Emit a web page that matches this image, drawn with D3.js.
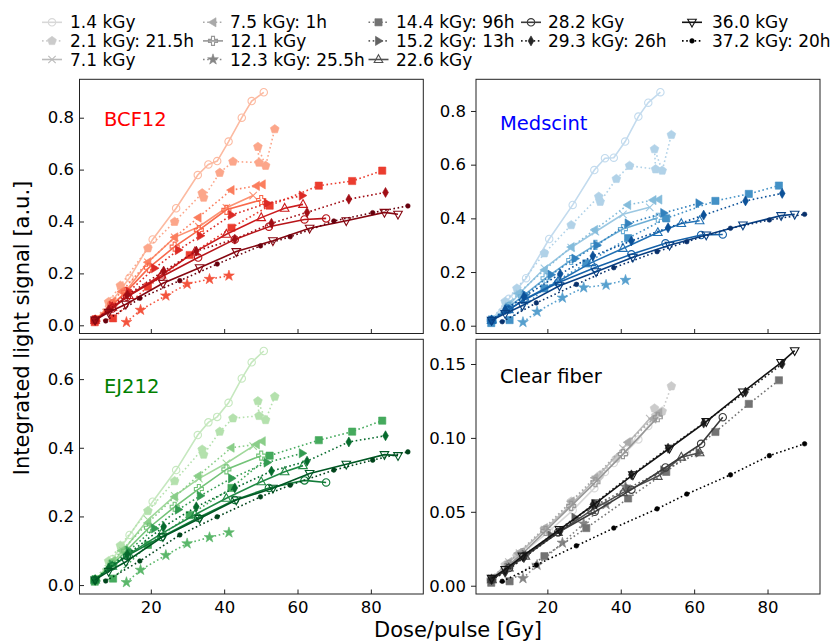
<!DOCTYPE html>
<html lang="en">
<head>
<meta charset="UTF-8">
<title>Integrated light signal vs dose/pulse</title>
<script src="https://d3js.org/d3.v7.min.js"></script>
<style>
  body { margin: 0; background: #fff; }
  svg { font-family: "DejaVu Sans", sans-serif; }
</style>
</head>
<body>
<div id="chart"></div>
<script>
const seriesNames = ["1.4 kGy", "2.1 kGy: 21.5h", "7.1 kGy", "7.5 kGy: 1h", "12.1 kGy",
  "12.3 kGy: 25.5h", "14.4 kGy: 96h", "15.2 kGy: 13h", "22.6 kGy", "28.2 kGy",
  "29.3 kGy: 26h", "36.0 kGy", "37.2 kGy: 20h"];
const panelNames = ["BCF12", "Medscint", "EJ212", "Clear fiber"];

// dose/pulse [Gy] per series (same for every detector)
const dosePulse = [
  [4.8, 9.5, 14.2, 20.5, 26.9, 32.8, 35.7, 38.1, 41.2, 44.8, 47.5, 50.8],
  [4.8, 8.5, 11.7, 19.2, 26.5, 34.0, 34.4, 38.8, 42.4, 49.5, 49.2, 51.3, 53.8],
  [4.8, 9.5, 12.4, 19.2, 26.5, 33.1, 40.6, 47.9],
  [4.8, 9.5, 12.0, 19.2, 26.5, 32.9, 41.9, 48.8, 50.4],
  [4.8, 9.5, 13.3, 19.5, 26.5, 33.1, 40.6, 50.1],
  [13.35, 17.2, 24.1, 29.9, 36.0, 41.3],
  [4.7, 9.7, 19.2, 30.6, 42.0, 52.4, 65.8, 74.9, 83.1],
  [4.8, 9.5, 14.0, 21.0, 27.5, 33.5, 42.0, 51.7, 61.3],
  [4.8, 9.5, 14.0, 22.9, 32.0, 40.6, 50.1, 56.5, 61.5],
  [4.8, 9.5, 13.5, 22.9, 32.9, 42.9, 52.2, 61.9, 67.8],
  [4.8, 8.5, 13.6, 23.5, 32.4, 42.9, 52.9, 62.6, 74.0, 84.0],
  [4.8, 8.5, 13.2, 23.3, 33.3, 43.3, 53.3, 63.3, 73.3, 83.7, 87.4],
  [7.7, 17.0, 27.9, 38.1, 49.9, 58.0, 69.9, 80.5, 90.1]
];

const signalBCF12 = [
  [0.017, 0.095, 0.183, 0.331, 0.451, 0.579, 0.620, 0.633, 0.708, 0.800, 0.864, 0.898],
  [0.020, 0.090, 0.153, 0.297, 0.399, 0.509, 0.492, 0.588, 0.631, 0.627, 0.688, 0.615, 0.756],
  [0.020, 0.080, 0.117, 0.243, 0.339, 0.380, 0.453, 0.500],
  [0.020, 0.090, 0.130, 0.243, 0.339, 0.415, 0.521, 0.537, 0.543],
  [0.020, 0.080, 0.129, 0.222, 0.303, 0.367, 0.445, 0.483],
  [0.012, 0.059, 0.114, 0.159, 0.178, 0.191],
  [0.012, 0.027, 0.149, 0.271, 0.376, 0.461, 0.538, 0.556, 0.596],
  [0.020, 0.075, 0.130, 0.220, 0.290, 0.345, 0.425, 0.470, 0.500],
  [0.020, 0.070, 0.115, 0.194, 0.283, 0.351, 0.415, 0.451, 0.466],
  [0.020, 0.065, 0.110, 0.187, 0.261, 0.331, 0.380, 0.408, 0.412],
  [0.020, 0.060, 0.117, 0.209, 0.286, 0.332, 0.393, 0.435, 0.486, 0.512],
  [0.020, 0.050, 0.081, 0.162, 0.222, 0.284, 0.326, 0.374, 0.403, 0.435, 0.428],
  [0.017, 0.104, 0.172, 0.236, 0.306, 0.341, 0.402, 0.434, 0.460]
];

const signalMedscint = [
  [0.021, 0.100, 0.177, 0.323, 0.450, 0.580, 0.624, 0.626, 0.686, 0.779, 0.831, 0.870],
  [0.020, 0.090, 0.139, 0.270, 0.375, 0.481, 0.462, 0.547, 0.596, 0.583, 0.658, 0.578, 0.711],
  [0.020, 0.075, 0.120, 0.214, 0.291, 0.350, 0.415, 0.441],
  [0.020, 0.080, 0.120, 0.208, 0.293, 0.357, 0.450, 0.468, 0.470],
  [0.020, 0.070, 0.110, 0.177, 0.245, 0.301, 0.360, 0.402],
  [0.013, 0.052, 0.104, 0.142, 0.152, 0.170],
  [0.010, 0.021, 0.139, 0.232, 0.326, 0.400, 0.465, 0.491, 0.522],
  [0.020, 0.065, 0.115, 0.190, 0.250, 0.300, 0.381, 0.420, 0.456],
  [0.020, 0.060, 0.100, 0.165, 0.235, 0.288, 0.347, 0.381, 0.391],
  [0.020, 0.060, 0.095, 0.160, 0.216, 0.266, 0.307, 0.338, 0.340],
  [0.020, 0.060, 0.108, 0.193, 0.260, 0.316, 0.365, 0.412, 0.465, 0.493],
  [0.020, 0.045, 0.075, 0.149, 0.201, 0.255, 0.300, 0.338, 0.375, 0.410, 0.415],
  [0.015, 0.085, 0.154, 0.216, 0.276, 0.313, 0.363, 0.394, 0.415]
];

const signalEJ212 = [
  [0.012, 0.075, 0.146, 0.243, 0.335, 0.437, 0.474, 0.490, 0.531, 0.602, 0.649, 0.682],
  [0.015, 0.070, 0.115, 0.216, 0.303, 0.395, 0.380, 0.447, 0.486, 0.493, 0.536, 0.481, 0.549],
  [0.015, 0.065, 0.100, 0.190, 0.260, 0.310, 0.355, 0.405],
  [0.015, 0.070, 0.100, 0.181, 0.257, 0.318, 0.400, 0.410, 0.419],
  [0.015, 0.060, 0.100, 0.167, 0.228, 0.280, 0.337, 0.377],
  [0.008, 0.044, 0.087, 0.121, 0.139, 0.153],
  [0.010, 0.019, 0.117, 0.204, 0.283, 0.377, 0.422, 0.447, 0.479],
  [0.015, 0.060, 0.100, 0.165, 0.220, 0.260, 0.311, 0.357, 0.384],
  [0.015, 0.055, 0.090, 0.150, 0.205, 0.253, 0.301, 0.330, 0.348],
  [0.015, 0.055, 0.085, 0.140, 0.196, 0.248, 0.283, 0.305, 0.299],
  [0.015, 0.050, 0.089, 0.170, 0.228, 0.283, 0.332, 0.361, 0.417, 0.435],
  [0.015, 0.040, 0.068, 0.141, 0.194, 0.248, 0.282, 0.325, 0.352, 0.380, 0.377],
  [0.012, 0.070, 0.146, 0.199, 0.257, 0.291, 0.335, 0.364, 0.388]
];

const signalClear = [
  [0.004, 0.014, 0.024, 0.037, 0.051, 0.066, 0.077, 0.083, 0.090, 0.099, 0.108, 0.117],
  [0.005, 0.014, 0.020, 0.038, 0.057, 0.074, 0.075, 0.086, 0.097, 0.115, 0.120, 0.118, 0.135],
  [0.005, 0.016, 0.022, 0.038, 0.055, 0.072, 0.093, 0.113],
  [0.005, 0.016, 0.022, 0.039, 0.057, 0.073, 0.097, 0.113, 0.117],
  [0.004, 0.014, 0.022, 0.037, 0.054, 0.070, 0.089, 0.114],
  [0.005, 0.014, 0.029, 0.042, 0.055, 0.067],
  [0.002, 0.003, 0.020, 0.039, 0.059, 0.077, 0.104, 0.123, 0.139],
  [0.004, 0.012, 0.021, 0.034, 0.046, 0.055, 0.066, 0.078, 0.090],
  [0.004, 0.012, 0.020, 0.036, 0.051, 0.063, 0.074, 0.087, 0.090],
  [0.004, 0.012, 0.020, 0.036, 0.050, 0.065, 0.080, 0.096, 0.114],
  [0.004, 0.009, 0.019, 0.037, 0.055, 0.075, 0.093, 0.110, 0.131, 0.150],
  [0.005, 0.011, 0.020, 0.038, 0.056, 0.075, 0.093, 0.111, 0.131, 0.151, 0.159],
  [0.003, 0.014, 0.027, 0.039, 0.052, 0.062, 0.075, 0.088, 0.096]
];

const xTicks = [20, 40, 60, 80];
const yTicksBCF12 = [0, 0.2, 0.4, 0.6, 0.8];
const yTicksMedscint = [0, 0.2, 0.4, 0.6, 0.8];
const yTicksEJ212 = [0, 0.2, 0.4, 0.6];
const yTicksClear = [0, 0.05, 0.10, 0.15];

// styles
const markers = ["o", "p", "x", "<", "P", "*", "s", ">", "^", "o", "d", "v", "."];
const dotted = [false, true, false, true, false, true, true, true, false, false, true, false, true];
const openMarker = m => ["o", "x", "P", "^", "v"].includes(m);

const W = 834, H = 644;
const panels = [
  { name: panelNames[0], data: signalBCF12, ticks: yTicksBCF12, fmt: ".1f", ydom: [-0.0316, 0.948],
    x: 79.5, y: 79.3, w: 343.8, h: 254.2, interp: d3.interpolateReds, color: "#ff0000",
    tx: 104, ty: 125.7, tickOut: false, xlabels: false },
  { name: panelNames[1], data: signalMedscint, ticks: yTicksMedscint, fmt: ".1f", ydom: [-0.029, 0.918],
    x: 476, y: 79.3, w: 344, h: 254.2, interp: d3.interpolateBlues, color: "#0000ff",
    tx: 500, ty: 130, tickOut: true, xlabels: false },
  { name: panelNames[2], data: signalEJ212, ticks: yTicksEJ212, fmt: ".1f", ydom: [-0.026, 0.716],
    x: 79.5, y: 339.3, w: 343.8, h: 254.7, interp: d3.interpolateGreens, color: "#008000",
    tx: 104, ty: 393.3, tickOut: false, xlabels: true },
  { name: panelNames[3], data: signalClear, ticks: yTicksClear, fmt: ".2f", ydom: [-0.0056, 0.1667],
    x: 476, y: 339.3, w: 344, h: 254.7, interp: d3.interpolateGreys, color: "#000000",
    tx: 500, ty: 383.3, tickOut: true, xlabels: true }
];

function markerPath(m) {
  const circ = r => `M${r},0A${r},${r} 0 1,1 ${-r},0A${r},${r} 0 1,1 ${r},0Z`;
  switch (m) {
    case "o": return circ(3.7);
    case ".": return circ(2.3);
    case "p": {
      const pts = d3.range(5).map(k => {
        const a = -Math.PI / 2 + k * 2 * Math.PI / 5;
        return [4.6 * Math.cos(a), 4.6 * Math.sin(a)];
      });
      return "M" + pts.map(p => p.join(",")).join("L") + "Z";
    }
    case "x": return "M-3.7,-3.7L3.7,3.7M-3.7,3.7L3.7,-3.7";
    case "<": return "M-4.6,0L3,-4.6L3,4.6Z";
    case ">": return "M4.6,0L-3,-4.6L-3,4.6Z";
    case "^": return "M0,-4.8L4.3,3L-4.3,3Z";
    case "v": return "M0,4.8L4.3,-3L-4.3,-3Z";
    case "P": {
      const a = 1.5, b = 4.5;
      return `M${-a},${-b}L${a},${-b}L${a},${-a}L${b},${-a}L${b},${a}L${a},${a}L${a},${b}L${-a},${b}L${-a},${a}L${-b},${a}L${-b},${-a}L${-a},${-a}Z`;
    }
    case "*": return d3.symbol(d3.symbolStar, 36)();
    case "s": return "M-3.6,-3.6L3.6,-3.6L3.6,3.6L-3.6,3.6Z";
    case "d": return "M0,-5L2.9,0L0,5L-2.9,0Z";
  }
}

function drawMarker(g, m, col, cx, cy) {
  const open = openMarker(m);
  g.append("path")
    .attr("d", markerPath(m))
    .attr("transform", `translate(${cx},${cy})`)
    .attr("fill", open ? "none" : col)
    .attr("stroke", col)
    .attr("stroke-width", open ? 1.1 : 0.6);
}

const svg = d3.select("#chart").append("svg")
  .attr("width", W).attr("height", H);

svg.append("rect").attr("width", W).attr("height", H).attr("fill", "#fff");

panels.forEach(p => {
  const x = d3.scaleLinear().domain([0.55, 94.3]).range([p.x, p.x + p.w]);
  const y = d3.scaleLinear().domain(p.ydom).range([p.y + p.h, p.y]);
  const g = svg.append("g");

  const clipId = "clip-" + p.name.replace(/\s/g, "");
  svg.append("clipPath").attr("id", clipId)
    .append("rect").attr("x", p.x).attr("y", p.y).attr("width", p.w).attr("height", p.h);
  const plot = g.append("g").attr("clip-path", `url(#${clipId})`);

  const line = d3.line().x(d => x(d[0])).y(d => y(d[1]));

  seriesNames.forEach((name, i) => {
    const col = p.interp(0.25 + 0.75 * i / 12);
    const pts = dosePulse[i].map((d, k) => [d, p.data[i][k]]);
    plot.append("path")
      .datum(pts)
      .attr("d", line)
      .attr("fill", "none")
      .attr("stroke", col)
      .attr("stroke-width", 1.6)
      .attr("stroke-dasharray", dotted[i] ? "1.6,2.6" : null);
    pts.forEach(d => drawMarker(plot, markers[i], col, x(d[0]), y(d[1])));
  });

  // frame
  g.append("rect")
    .attr("x", p.x).attr("y", p.y).attr("width", p.w).attr("height", p.h)
    .attr("fill", "none").attr("stroke", "#222").attr("stroke-width", 1);

  // x ticks (inside)
  const xa = g.append("g")
    .attr("transform", `translate(0,${p.y + p.h})`)
    .call(d3.axisBottom(x).tickValues(xTicks).tickSizeInner(-4.5).tickSizeOuter(0)
      .tickFormat(p.xlabels ? d3.format("d") : ""));
  xa.select(".domain").remove();
  xa.selectAll("line").attr("stroke", "#222");
  xa.selectAll("text").attr("y", 18.5).attr("dy", 0)
    .attr("font-size", 16.5).attr("fill", "#000")
    .attr("font-family", "DejaVu Sans, sans-serif");

  // y ticks
  const ya = g.append("g")
    .attr("transform", `translate(${p.x},0)`)
    .call(d3.axisLeft(y).tickValues(p.ticks).tickFormat(d3.format(p.fmt))
      .tickSizeInner(p.tickOut ? 5 : -4.5).tickSizeOuter(0));
  ya.select(".domain").remove();
  ya.selectAll("line").attr("stroke", "#222");
  ya.selectAll("text")
    .attr("x", p.tickOut ? -10 : -5.5)
    .attr("font-size", 16.5).attr("fill", "#000")
    .attr("font-family", "DejaVu Sans, sans-serif");

  // panel title
  g.append("text")
    .attr("x", p.tx).attr("y", p.ty)
    .attr("font-size", 19.5).attr("fill", p.color)
    .text(p.name);
});

// axis labels
svg.append("text")
  .attr("transform", "translate(29,328) rotate(-90)")
  .attr("text-anchor", "middle")
  .attr("font-size", 21)
  .text("Integrated light signal [a.u.]");

svg.append("text")
  .attr("x", 458).attr("y", 637)
  .attr("text-anchor", "middle")
  .attr("font-size", 21)
  .text("Dose/pulse [Gy]");

// legend (Greys, 5 columns filled column-wise)
const legendCols = [[52, 70], [213, 230], [378.5, 396], [531, 548], [692, 712]];
const legendRows = [28.3, 46.9, 65.5];
const colStarts = [0, 3, 6, 9, 11];
const lg = svg.append("g");
seriesNames.forEach((name, i) => {
  let c = 0;
  for (let k = 0; k < colStarts.length; k++) if (i >= colStarts[k]) c = k;
  const r = i - colStarts[c];
  const col = d3.interpolateGreys(0.25 + 0.75 * i / 12);
  const [mx, tx] = legendCols[c];
  const base = legendRows[r];
  const cy = base - 6;
  lg.append("line")
    .attr("x1", mx - 10).attr("x2", mx + 10).attr("y1", cy).attr("y2", cy)
    .attr("stroke", col).attr("stroke-width", 1.6)
    .attr("stroke-dasharray", dotted[i] ? "1.6,2.6" : null);
  drawMarker(lg, markers[i], col, mx, cy);
  lg.append("text")
    .attr("x", tx).attr("y", base)
    .attr("font-size", 17).attr("fill", "#000")
    .text(name);
});
</script>
</body>
</html>
